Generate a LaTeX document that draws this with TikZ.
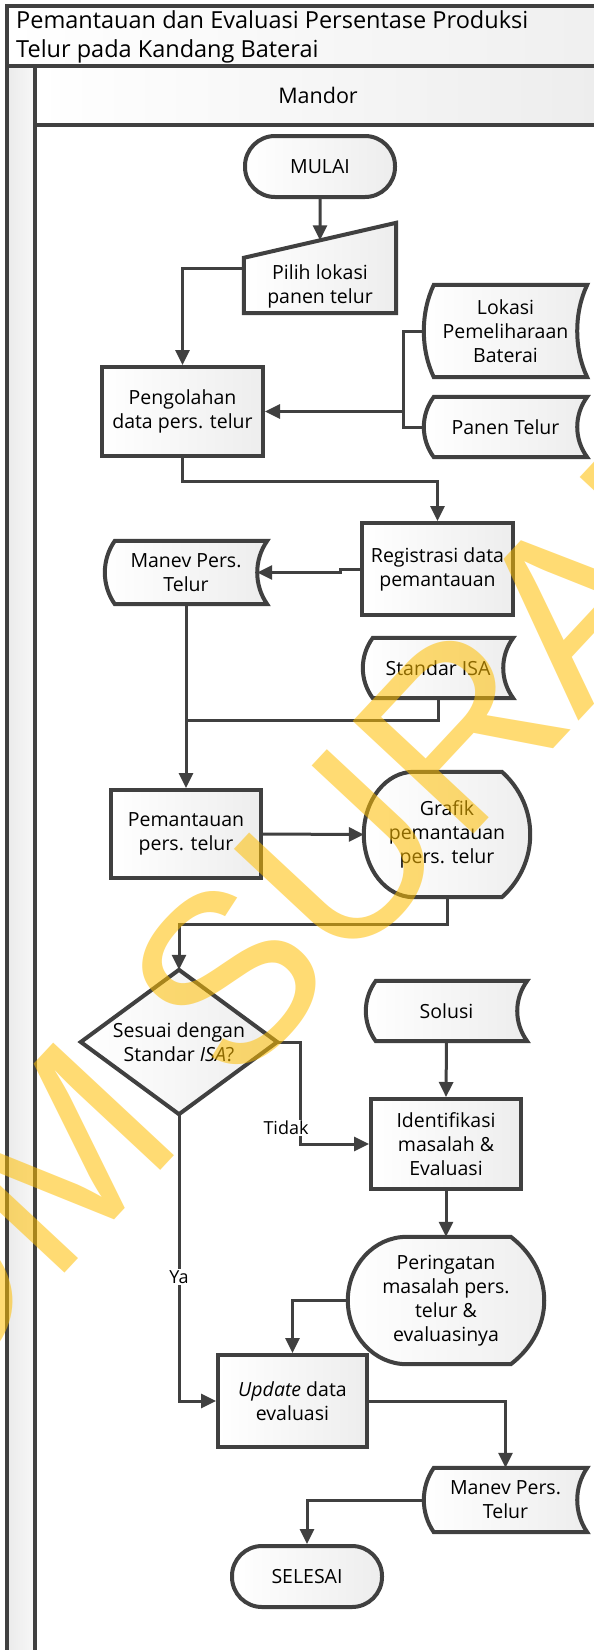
\documentclass[tikz,border=0pt]{standalone}
\usepackage{fontspec}
\setmainfont{Open Sans}
\newfontfamily\wmfont{Liberation Sans}
\usetikzlibrary{arrows.meta,calc}
\definecolor{ln}{HTML}{404040}
\definecolor{wmyellow}{RGB}{255,190,0}
\pgfdeclarelayer{bg}
\pgfdeclarelayer{shp}
\pgfdeclarelayer{wm}
\pgfsetlayers{bg,shp,main,wm}

\tikzset{
  frameline/.style={draw=ln, line width=4pt},
  boxline/.style={draw=ln, line width=4pt, left color=white, right color=black!7},
  conn/.style={draw=ln, line width=3pt},
  arr/.style={conn, -{Triangle[length=15pt,width=14pt]}},
  txt/.style={font=\fontsize{19.5}{24}\selectfont, align=center, text=black, inner sep=0pt},
  proc/.style={boxline, rectangle, txt},
  term/.style={proc, rounded corners=30pt},
  holder/.style={rectangle, txt},
  lbl/.style={fill=white, font=\fontsize{18}{20}\selectfont, inner sep=1.5pt},
}

% stored-data outline: convex left side, concave right side
\newcommand\storedshape[1]{%
  \path[boxline] let \p1=(#1.north west), \p2=(#1.south east), \n1={0.3*(\y1-\y2)} in
    ({\x1+10pt},\y1) -- (\x2,\y1)
    .. controls +(-13.3,-\n1) and +(-13.3,\n1) .. (\x2,\y2)
    -- ({\x1+10pt},\y2)
    .. controls +(-13.3,\n1) and +(-13.3,-\n1) .. ({\x1+10pt},\y1) -- cycle;}

% display outline: rounded point on the left, arc on the right
\newcommand\displayshape[1]{%
  \path[boxline] let \p1=(#1.north west), \p2=(#1.south east),
      \n1={\y1-\y2}, \n2={\x2-\x1} in
    (\x1,{(\y1+\y2)/2})
    .. controls +(0,{0.276*\n1}) and +({-0.166*\n2},0) .. ({\x1+0.3*\n2},\y1)
    -- ({\x2-0.17*\n2},\y1)
    .. controls +({0.227*\n2},{-0.27*\n1}) and +({0.227*\n2},{0.27*\n1}) .. ({\x2-0.17*\n2},\y2)
    -- ({\x1+0.3*\n2},\y2)
    .. controls +({-0.166*\n2},0) and +(0,{-0.276*\n1}) .. (\x1,{(\y1+\y2)/2}) -- cycle;}

\begin{document}
\begin{tikzpicture}[x=1pt,y=1pt]
\useasboundingbox (0,0) rectangle (594,-1650);

% swimlane frame
\begin{pgfonlayer}{bg}
  \fill[white] (0,0) rectangle (594,-1650);
  \shade[left color=white, right color=black!6] (7,-6) rectangle (594,-66);
  \shade[left color=white, right color=black!7] (35,-66) rectangle (594,-125);
  \shade[left color=black!8, right color=black!3] (7,-66) rectangle (35,-1650);
  \draw[frameline] (5,-6) -- (594,-6);
  \draw[frameline] (7,-6) -- (7,-1650);
  \draw[frameline] (7,-66) -- (594,-66);
  \draw[frameline] (35,-66) -- (35,-1650);
  \draw[frameline] (35,-125) -- (594,-125);
\end{pgfonlayer}

\node[anchor=north west, inner sep=0pt, align=left, font=\fontsize{23.5}{29}\selectfont] (title) at (16,-10)
  {Pemantauan dan Evaluasi Persentase Produksi\\Telur pada Kandang Baterai};
\node[font=\fontsize{21.5}{26}\selectfont] (lane) at (318,-95) {Mandor};

% flow nodes
\node[term, minimum width=150, minimum height=61] (mulai) at (320,-166.5) {MULAI};
\node[holder, minimum width=152, minimum height=90] (pilih) at (320,-268) {};
\node[txt] (pilihtxt) at (320,-286) {Pilih lokasi\\panen telur};
\node[proc, minimum width=161, minimum height=89] (peng) at (182.5,-411.5) {Pengolahan\\data pers. telur};
\node[holder, minimum width=163, minimum height=92] (lok) at (505.5,-331) {Lokasi\\Pemeliharaan\\Baterai};
\node[holder, minimum width=163, minimum height=60] (panen) at (505.5,-427) {Panen Telur};
\node[proc, minimum width=151, minimum height=92] (reg) at (437.5,-569) {Registrasi data\\pemantauan};
\node[holder, minimum width=162, minimum height=63] (man1) at (186,-572.5) {Manev Pers.\\Telur};
\node[holder, minimum width=150, minimum height=60] (std) at (438,-668) {Standar ISA};
\node[proc, minimum width=150, minimum height=88] (pem) at (186,-834) {Pemantauan\\pers. telur};
\node[holder, minimum width=166, minimum height=125] (graf) at (447,-834.5) {Grafik\\pemantauan\\pers. telur};
\node[holder, minimum width=196, minimum height=144] (dia) at (179,-1042) {Sesuai dengan\\Standar \textit{ISA}?};
\node[holder, minimum width=161, minimum height=60] (sol) at (446.5,-1011) {Solusi};
\node[proc, minimum width=150, minimum height=90] (ident) at (446,-1144) {Identifikasi\\masalah \&\\Evaluasi};
\node[holder, minimum width=196, minimum height=127] (per) at (446,-1300.5) {Peringatan\\masalah pers.\\telur \&\\evaluasinya};
\node[proc, minimum width=149, minimum height=92] (upd) at (292.5,-1401) {\textit{Update} data\\evaluasi};
\node[holder, minimum width=163, minimum height=64] (man2) at (505.5,-1500) {Manev Pers.\\Telur};
\node[term, minimum width=150, minimum height=61] (sel) at (307,-1576.5) {SELESAI};

% outlines of the non-rectangular symbols
\begin{pgfonlayer}{shp}
  \path[boxline] (pilih.south west) -- ($(pilih.north west)+(0,-35)$) -- (pilih.north east) -- (pilih.south east) -- cycle;
  \path[boxline] (dia.north) -- (dia.east) -- (dia.south) -- (dia.west) -- cycle;
  \storedshape{lok}
  \storedshape{panen}
  \storedshape{man1}
  \storedshape{std}
  \storedshape{sol}
  \storedshape{man2}
  \displayshape{graf}
  \displayshape{per}
\end{pgfonlayer}

% connectors
\coordinate (pilihtl) at ($(pilih.north west)+(0,-35)$);
\draw[arr] (mulai.south) -- ($(pilihtl)!0.5!(pilih.north east)$);
\draw[arr] ($(pilih.north west)+(0,-46)$) -| (peng.north);
\coordinate (brk) at (403,-331);
\draw[conn] (lok.west) -- (brk) |- (panen.west);
\draw[arr] (brk |- peng.east) -- (peng.east);
\draw[arr] (peng.south) -- ++(0,-23) -| (reg.north);
\draw[arr] (reg.west) -- ++(-20,0) |- ($(man1.east)+(-10,0)$);
\coordinate (join) at (186,-720);
\draw[conn] (std.south) |- (join);
\draw[arr] (man1.south) -- (pem.north);
\draw[arr] (pem.east) -- (graf.west);
\draw[arr] (graf.south) -- ++(0,-27) -| (dia.north);
\draw[arr] (sol.south) -- (ident.north);
\draw[arr] (dia.east) -- ++(23,0) |- (ident.west);
\draw[arr] (ident.south) -- (per.north);
\draw[arr] (per.west) -| (upd.north);
\draw[arr] (dia.south) |- (upd.west);
\draw[arr] (upd.east) -| (man2.north);
\draw[arr] (man2.west) -| (sel.north);

\node[lbl] (tidak) at (286,-1128) {Tidak};
\node[lbl] (ya) at (179,-1277) {Ya};

% repository watermark
\begin{pgfonlayer}{wm}
  \begin{scope}
    \clip (0,0) rectangle (594,-1650);
    \node[rotate=47, anchor=base west, inner sep=0pt, text=wmyellow, text opacity=0.55,
          font=\wmfont\fontsize{240}{240}\selectfont] (wmark) at (-440,-1814) {STIKOM SURABAYA};
  \end{scope}
\end{pgfonlayer}
\end{tikzpicture}
\end{document}
